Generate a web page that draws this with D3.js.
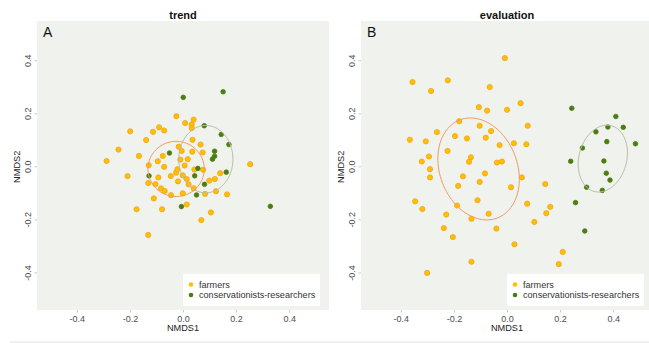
<!DOCTYPE html>
<html>
<head>
<meta charset="utf-8">
<script src="https://cdn.jsdelivr.net/npm/d3@7"></script>
<style>
  body { margin: 0; background: #fff; }
  text { font-family: "Liberation Sans", Arial, sans-serif; }
</style>
</head>
<body>
<div id="chart"></div>
<script>
// NMDS scores
const trendFarmers = [
  [-0.288, 0.022], [-0.243, 0.065], [-0.199, 0.134], [-0.209, -0.035], [-0.175, -0.160],
  [-0.166, 0.041], [-0.139, 0.101], [-0.131, -0.257], [-0.131, -0.061], [-0.129, 0.006],
  [-0.113, 0.132], [-0.110, -0.119], [-0.104, -0.065], [-0.090, 0.149], [-0.095, 0.021],
  [-0.093, -0.040], [-0.079, -0.160], [-0.083, -0.081], [-0.076, 0.041], [-0.071, 0.137],
  [-0.071, 0.000], [-0.069, -0.091], [-0.045, -0.107], [-0.046, -0.035], [-0.025, 0.191],
  [-0.026, -0.022], [-0.021, -0.009], [-0.019, -0.055], [-0.016, 0.076], [-0.010, 0.027],
  [-0.005, 0.060], [-0.001, -0.100], [-0.001, -0.032], [0.006, 0.005], [0.008, 0.165],
  [0.014, -0.142], [0.014, -0.046], [0.018, 0.029], [0.021, -0.066], [0.033, 0.160],
  [0.033, 0.146], [0.040, 0.178], [0.036, 0.102], [0.035, 0.057], [0.040, -0.081],
  [0.043, -0.010], [0.066, 0.084], [0.074, 0.054], [0.076, -0.011], [0.069, -0.201],
  [0.083, -0.102], [0.099, -0.052], [0.105, -0.172], [0.120, -0.046], [0.124, -0.092],
  [0.140, -0.024], [0.166, -0.104], [0.253, 0.010]
];
const trendCons = [
  [0.001, 0.262], [0.151, 0.283], [0.080, 0.155], [0.144, 0.122], [0.173, 0.084],
  [0.119, 0.059], [0.119, 0.040], [0.111, 0.029], [-0.051, 0.052], [0.056, -0.006],
  [0.044, -0.034], [0.163, -0.020], [-0.128, -0.034], [0.081, -0.066], [0.051, -0.106],
  [-0.006, -0.150], [0.329, -0.149]
];
const evalFarmers = [
  [-0.008, 0.410], [-0.356, 0.320], [-0.223, 0.326], [-0.286, 0.286], [-0.065, 0.301],
  [0.051, 0.240], [-0.106, 0.225], [-0.075, 0.212], [0.000, 0.215], [-0.180, 0.172],
  [-0.264, 0.131], [-0.103, 0.155], [0.078, 0.155], [-0.060, 0.135], [-0.366, 0.102],
  [-0.306, 0.096], [-0.196, 0.116], [-0.151, 0.107], [-0.080, 0.110], [-0.028, 0.082],
  [0.026, 0.089], [0.073, 0.085], [-0.224, 0.060], [-0.294, 0.039], [-0.136, 0.036],
  [-0.321, 0.020], [-0.143, 0.019], [-0.038, 0.016], [-0.019, 0.020], [-0.290, -0.009],
  [-0.083, -0.025], [-0.166, -0.036], [-0.290, -0.040], [0.056, -0.040], [-0.103, -0.057],
  [0.144, -0.065], [-0.184, -0.072], [0.015, -0.077], [-0.346, -0.130], [-0.111, -0.126],
  [0.076, -0.139], [-0.319, -0.159], [-0.188, -0.146], [0.163, -0.151], [-0.229, -0.180],
  [-0.069, -0.177], [0.148, -0.175], [-0.134, -0.196], [0.103, -0.208], [-0.238, -0.231],
  [-0.040, -0.233], [-0.204, -0.265], [0.028, -0.292], [0.210, -0.321], [-0.134, -0.358],
  [0.195, -0.367], [-0.301, -0.400]
];
const evalCons = [
  [0.244, 0.221], [0.410, 0.190], [0.335, 0.132], [0.380, 0.150], [0.438, 0.149],
  [0.376, 0.095], [0.484, 0.087], [0.284, 0.071], [0.240, 0.021], [0.365, 0.022],
  [0.374, -0.024], [0.388, -0.050], [0.300, -0.077], [0.359, -0.089], [0.258, -0.135],
  [0.293, -0.242]
];
// ellipses: [cx, cy, semi-axis a, semi-axis b, angle of a in degrees]
const trendEllipses = [[-0.026, -0.008, 0.106, 0.104, 0], [0.086, 0.029, 0.127, 0.102, 90]];
const evalEllipses = [[-0.107, -0.008, 0.198, 0.146, 110.7], [0.361, 0.031, 0.128, 0.090, 75.8]];

const groups = ['farmers', 'conservationists-researchers'];
const xTicks = [-0.4, -0.2, 0.0, 0.2, 0.4];
const yTicks = [-0.4, -0.2, 0.0, 0.2, 0.4];

const fillCol = ['#ffc000', '#4b7d0f'];
const strokeCol = ['#f5a21c', '#4b7d0f'];
const ellCol = ['#f29a5e', '#b8bea9'];

const W = 649, H = 343;
const svg = d3.select('#chart').append('svg').attr('width', W).attr('height', H);

// faint rule at the bottom
svg.append('line').attr('x1', 10).attr('x2', W).attr('y1', 342).attr('y2', 342)
  .attr('stroke', '#e4e4e4').attr('stroke-width', 1);

const panels = [
  { title: 'trend', tag: 'A', left: 37, sets: [trendFarmers, trendCons], ells: trendEllipses },
  { title: 'evaluation', tag: 'B', left: 361, sets: [evalFarmers, evalCons], ells: evalEllipses }
];

const pw = 292, pTop = 21, pBottom = 310;

panels.forEach(p => {
  const x = d3.scaleLinear().domain([-0.55, 0.55]).range([p.left, p.left + pw]);
  const y = d3.scaleLinear().domain([-0.54, 0.55]).range([pBottom, pTop]);
  const g = svg.append('g');

  g.append('rect').attr('x', p.left).attr('y', pTop).attr('width', pw).attr('height', pBottom - pTop)
    .attr('fill', '#f0f2ed');

  // axes
  const xa = g.append('g').attr('transform', `translate(0,${pBottom})`)
    .call(d3.axisBottom(x).tickValues(xTicks).tickFormat(d3.format('.1f')).tickSize(2.5).tickPadding(3));
  const ya = g.append('g').attr('transform', `translate(${p.left},0)`)
    .call(d3.axisLeft(y).tickValues(yTicks).tickFormat(d3.format('.1f')).tickSize(2.5).tickPadding(3));
  [xa, ya].forEach(a => {
    a.select('.domain').remove();
    a.selectAll('line').attr('stroke', '#c8c8c8');
    a.selectAll('text').attr('fill', '#4d4d4d').style('font-size', '9px')
      .text(d => d3.format('.1f')(d).replace('\u2212', '-'));
  });
  ya.selectAll('.tick').attr('transform', null);
  ya.selectAll('.tick line').attr('y1', d => y(d)).attr('y2', d => y(d));
  ya.selectAll('.tick text')
    .attr('transform', d => `translate(-9,${y(d)}) rotate(-90)`)
    .attr('x', 0).attr('y', 0).attr('dy', '0.32em').attr('text-anchor', 'middle');

  // points
  p.sets.forEach((set, gi) => {
    g.append('g').selectAll('circle').data(set).join('circle')
      .attr('cx', d => x(d[0])).attr('cy', d => y(d[1]))
      .attr('r', gi === 0 ? 2.6 : 2.3)
      .attr('fill', fillCol[gi]).attr('stroke', strokeCol[gi]).attr('stroke-width', 0.8);
  });

  // ellipses
  const line = d3.line().x(d => x(d[0])).y(d => y(d[1]));
  p.ells.forEach((e, gi) => {
    const [cx, cy, a, b, ang] = e;
    const phi = ang * Math.PI / 180;
    const pts = d3.range(0, 101).map(i => {
      const t = i / 100 * 2 * Math.PI;
      return [cx + a * Math.cos(t) * Math.cos(phi) - b * Math.sin(t) * Math.sin(phi),
              cy + a * Math.cos(t) * Math.sin(phi) + b * Math.sin(t) * Math.cos(phi)];
    });
    g.append('path').attr('d', line(pts)).attr('fill', 'none')
      .attr('stroke', ellCol[gi]).attr('stroke-width', 1);
  });

  // title, tag, axis labels
  const cxm = p.left + pw / 2;
  g.append('text').attr('x', cxm).attr('y', 19).attr('text-anchor', 'middle')
    .style('font-size', '11px').style('font-weight', 'bold').attr('fill', '#111').text(p.title);
  g.append('text').attr('x', p.left + 6).attr('y', 37.3)
    .style('font-size', '14px').attr('fill', '#111').text(p.tag);
  g.append('text').attr('x', cxm).attr('y', 331).attr('text-anchor', 'middle')
    .style('font-size', '9.2px').attr('fill', '#222').text('NMDS1');
  g.append('text').attr('transform', `translate(${p.left - 17},${y(0)}) rotate(-90)`)
    .attr('text-anchor', 'middle').style('font-size', '9.2px').attr('fill', '#222').text('NMDS2');

  // legend
  const lg = g.append('g').attr('transform', `translate(${p.left + 146},274)`);
  lg.append('rect').attr('width', 137).attr('height', 32).attr('fill', '#fff');
  groups.forEach((name, gi) => {
    lg.append('circle').attr('cx', 8).attr('cy', 10.5 + gi * 10.5).attr('r', 2.3)
      .attr('fill', fillCol[gi]);
    lg.append('text').attr('x', 16).attr('y', 10.5 + gi * 10.5).attr('dy', '0.35em')
      .style('font-size', '9.1px').attr('fill', '#333').text(name);
  });
});
</script>
</body>
</html>
